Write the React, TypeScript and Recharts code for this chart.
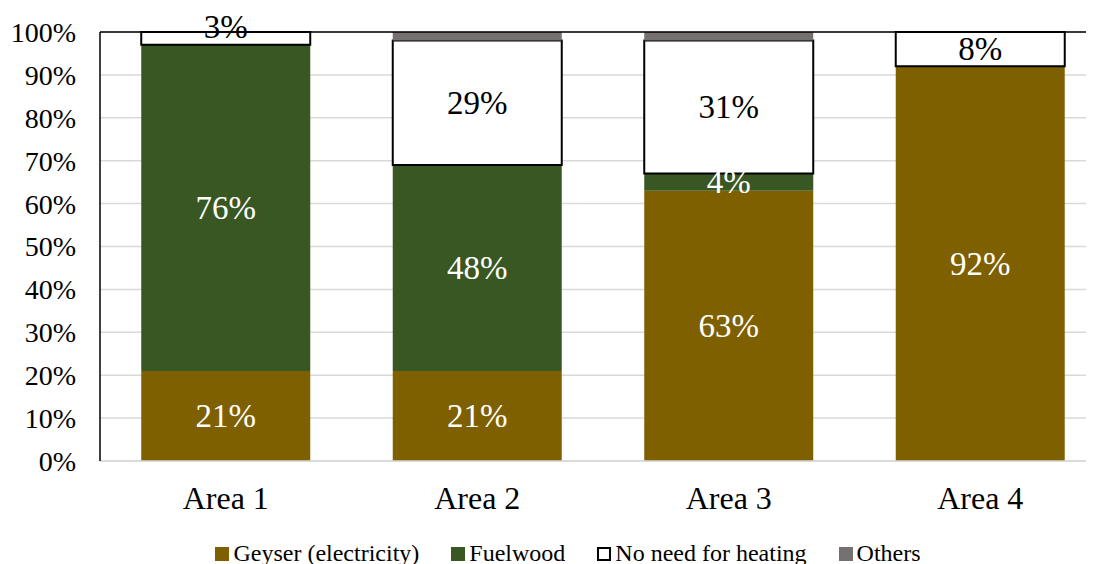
import React from 'react';
import { BarChart, Bar, XAxis, YAxis, CartesianGrid, Legend, LabelList, ReferenceLine } from 'recharts';

// Share of households by water-heating source, per area (%)
const categories = ['Area 1', 'Area 2', 'Area 3', 'Area 4'];
const geyser = [21, 21, 63, 92];
const fuelwood = [76, 48, 4, 0];
const noNeed = [3, 29, 31, 8];
const others = [0, 2, 2, 0];
const yTicks = [0, 10, 20, 30, 40, 50, 60, 70, 80, 90, 100];

const data = categories.map((name, i) => ({
  name,
  geyser: geyser[i],
  fuelwood: fuelwood[i],
  noNeed: noNeed[i],
  others: others[i],
}));

const FONT = '"Liberation Serif", "Times New Roman", serif';

const series = [
  { key: 'geyser', name: 'Geyser (electricity)', fill: '#7F6000', stroke: 'none', labelColor: '#ffffff' },
  { key: 'fuelwood', name: 'Fuelwood', fill: '#385723', stroke: 'none', labelColor: '#ffffff' },
  { key: 'noNeed', name: 'No need for heating', fill: '#ffffff', stroke: '#000000', labelColor: '#000000' },
  { key: 'others', name: 'Others', fill: '#767171', stroke: 'none', labelColor: null as string | null },
];

const makeLabel = (color: string) => (props: any) => {
  const { x, y, width, height, value } = props;
  if (!value) return null;
  // thin segments get their label lifted onto the top edge
  const cy = height < 16 ? y - 5 : y + height / 2;
  return (
    <text
      x={x + width / 2}
      y={cy}
      fill={color}
      fontFamily={FONT}
      fontSize={33}
      textAnchor="middle"
      dominantBaseline="central"
    >
      {`${value}%`}
    </text>
  );
};

const LegendContent = () => (
  <div
    style={{
      display: 'flex',
      justifyContent: 'center',
      alignItems: 'center',
      gap: 32,
      height: 30,
      fontFamily: FONT,
      fontSize: 24,
      color: '#000',
      paddingLeft: 10,
    }}
  >
    {series.map((s) => (
      <div key={s.key} style={{ display: 'flex', alignItems: 'center' }}>
        <span
          style={{
            display: 'inline-block',
            boxSizing: 'border-box',
            width: 14,
            height: 14,
            background: s.fill,
            border: s.stroke === 'none' ? 'none' : '2px solid #000',
            marginRight: 4,
            marginTop: 2,
          }}
        />
        <span style={{ fontFamily: FONT }}>{s.name}</span>
      </div>
    ))}
  </div>
);

export default function App() {
  return (
    <div style={{ width: 1086, height: 556, overflow: 'hidden' }}>
      <BarChart
        width={1110}
        height={556}
        data={data}
        margin={{ top: 24, right: 12, left: 0, bottom: 23 }}
        barCategoryGap="16.4%"
      >
        <CartesianGrid vertical={false} stroke="#d9d9d9" strokeWidth={1.5} />
        <XAxis
          dataKey="name"
          height={50}
          axisLine={{ stroke: '#d9d9d9', strokeWidth: 1.5 }}
          tickLine={false}
          tickSize={0}
          tickMargin={25}
          tick={{ fontFamily: FONT, fontSize: 32, fill: '#000' }}
        />
        <YAxis
          width={92}
          domain={[0, 100]}
          ticks={yTicks}
          interval={0}
          tickFormatter={(v: number) => `${v}%`}
          axisLine={{ stroke: '#000', strokeWidth: 1.5 }}
          tickLine={false}
          tickSize={0}
          tickMargin={24}
          tick={{ fontFamily: FONT, fontSize: 28, fill: '#000' }}
        />
        <Legend
          verticalAlign="bottom"
          content={<LegendContent />}
          wrapperStyle={{ top: 530, bottom: 'auto', left: 0, width: 1110, height: 30 }}
        />
        {series.map((s) => (
          <Bar
            key={s.key}
            dataKey={s.key}
            name={s.name}
            stackId="a"
            fill={s.fill}
            stroke={s.stroke}
            strokeWidth={s.stroke === 'none' ? 0 : 2}
            isAnimationActive={false}
          >
            {s.labelColor && <LabelList dataKey={s.key} content={makeLabel(s.labelColor)} />}
          </Bar>
        ))}
        <ReferenceLine y={100} stroke="#000" strokeWidth={1.5} />
      </BarChart>
    </div>
  );
}
